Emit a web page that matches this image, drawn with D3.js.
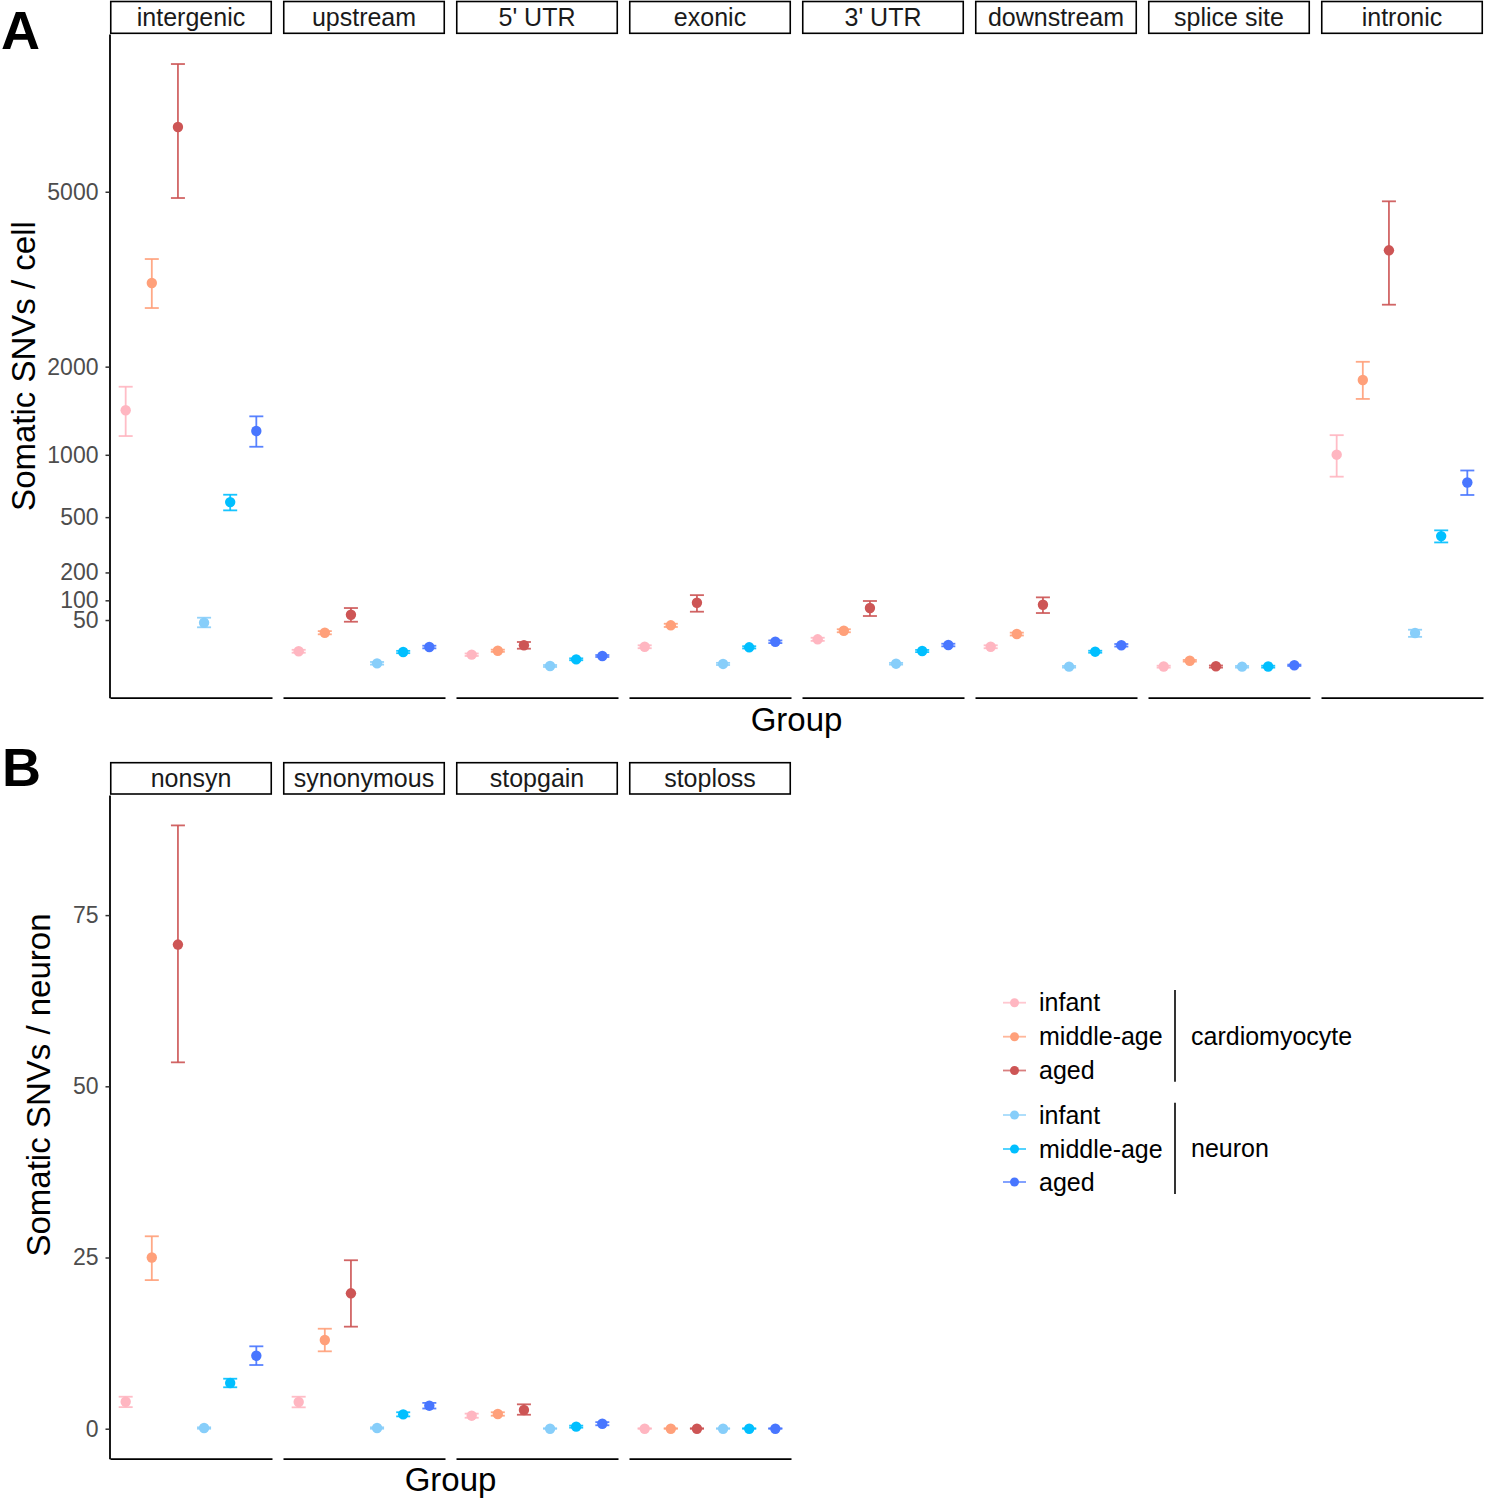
<!DOCTYPE html>
<html>
<head>
<meta charset="utf-8">
<script src="https://cdn.jsdelivr.net/npm/d3@7"></script>
<style>
  body { margin: 0; background: #fff; }
  svg { display: block; font-family: "Liberation Sans", Arial, sans-serif; }
</style>
</head>
<body>
<svg id="chart" width="1485" height="1500"></svg>
<script>
// ---------------- DATA ----------------
const groups = ["infant C", "middle-age C", "aged C", "infant N", "middle-age N", "aged N"];
const groupColors = ["#FFB6C1", "#FFA07A", "#CD5555", "#87CEFA", "#00BFFF", "#4876FF"];
const legendLabels = ["infant", "middle-age", "aged", "infant", "middle-age", "aged"];
const cellTypes = ["cardiomyocyte", "neuron"];

// Panel A (Somatic SNVs / cell), order of groups as above
const regionsA = ["intergenic", "upstream", "5' UTR", "exonic", "3' UTR", "downstream", "splice site", "intronic"];
const meanA = [
  [1462, 3266, 6453, 44.5, 605, 1236],
  [5.9, 26.9, 61.8, 0.4, 5.4, 9.4],
  [3.7, 6.3, 11.0, 0.06, 1.5, 3.0],
  [9.6, 39.5, 93, 0.3, 9.1, 14.8],
  [17.7, 30, 78.4, 0.34, 6.1, 11.3],
  [9.6, 24.9, 87.4, 0.02, 5.6, 11],
  [0.03, 1.05, 0.04, 0.02, 0.03, 0.12],
  [1001, 1826, 3845, 26.4, 382, 757]
];
const lowA = [
  [1184, 2855, 4869, 35.9, 546, 1077],
  [4.9, 24.5, 46.5, 0.2, 4.6, 8.2],
  [3.0, 5.5, 7.9, 0.01, 1.2, 2.5],
  [8.3, 36.5, 69, 0.15, 8.1, 13.3],
  [15.8, 27.6, 58.8, 0.2, 5.3, 10],
  [8.3, 22.8, 65.8, 0.0, 4.9, 9.8],
  [0, 0.8, 0, 0, 0, 0.06],
  [805, 1594, 2908, 20.9, 346, 658]
];
const highA = [
  [1742, 3686, 8044, 55, 660, 1394],
  [7.0, 29.4, 78.4, 0.7, 6.2, 10.6],
  [4.4, 7.1, 14.5, 0.15, 1.9, 3.5],
  [11.0, 42.5, 116, 0.5, 10.1, 16.3],
  [19.7, 32.5, 98, 0.5, 6.9, 12.6],
  [11, 27, 109, 0.06, 6.3, 12.3],
  [0.08, 1.3, 0.1, 0.06, 0.08, 0.2],
  [1193, 2065, 4801, 31.7, 416, 858]
];
const ticksA = [50, 100, 200, 500, 1000, 2000, 5000];

// Panel B (Somatic SNVs / neuron)
const regionsB = ["nonsyn", "synonymous", "stopgain", "stoploss"];
const meanB = [
  [3.94, 25.0, 70.7, 0.1, 6.67, 10.66],
  [3.9, 12.95, 19.77, 0.1, 2.1, 3.36],
  [1.9, 2.15, 2.73, 0.0, 0.3, 0.73],
  [0, 0, 0, 0, 0, 0]
];
const lowB = [
  [3.15, 21.7, 53.5, 0.0, 6.05, 9.3],
  [3.12, 11.3, 14.9, 0.0, 1.8, 2.95],
  [1.6, 1.9, 2.04, 0, 0.15, 0.5],
  [0, 0, 0, 0, 0, 0]
];
const highB = [
  [4.67, 28.1, 88.1, 0.2, 7.3, 12.03],
  [4.67, 14.6, 24.6, 0.2, 2.4, 3.77],
  [2.2, 2.4, 3.56, 0.05, 0.45, 0.96],
  [0.05, 0.05, 0.05, 0.05, 0.05, 0.05]
];
const ticksB = [0, 25, 50, 75];

// ---------------- DRAW ----------------
const svg = d3.select("#chart");
const color = d3.scaleOrdinal().domain(groups).range(groupColors);
const FONT_TICK = 23, FONT_STRIP = 25, FONT_TITLE = 33;

function drawPanel(opt) {
  const { regions, mean, low, high, y, top, bottom, stripTop, stripBottom, xStart, ticks, ticksFmt } = opt;
  const bandW = 162, gap = 11;
  const xEnd = xStart + regions.length * bandW + (regions.length - 1) * gap;
  const facet = d3.scaleBand().domain(regions).range([xStart, xEnd]).paddingInner(gap / (bandW + gap)).paddingOuter(0);
  const g = svg.append("g");

  // y axis
  const yAxis = d3.axisLeft(y).tickValues(ticks).tickSize(4).tickSizeOuter(0).tickPadding(7).tickFormat(ticksFmt);
  const ya = g.append("g").attr("transform", `translate(${xStart - 0.5},0)`).call(yAxis);
  ya.select(".domain").attr("stroke", "#000").attr("stroke-width", 1.8);
  ya.selectAll(".tick line").attr("stroke", "#333").attr("stroke-width", 1.5);
  ya.selectAll(".tick text").attr("fill", "#4D4D4D").attr("font-size", FONT_TICK).attr("font-family", "Liberation Sans, Arial, sans-serif");

  regions.forEach((r, i) => {
    const x0 = facet(r);
    const xs = d3.scalePoint().domain(groups).range([x0, x0 + facet.bandwidth()]).padding(0.6);
    const pg = g.append("g");

    // strip
    pg.append("rect").attr("x", x0 + 0.75).attr("y", stripTop).attr("width", facet.bandwidth() - 1.5)
      .attr("height", stripBottom - stripTop).attr("fill", "#fff").attr("stroke", "#000").attr("stroke-width", 1.6);
    pg.append("text").attr("x", x0 + facet.bandwidth() / 2).attr("y", (stripTop + stripBottom) / 2)
      .attr("dy", "0.35em").attr("text-anchor", "middle").attr("font-size", FONT_STRIP).attr("fill", "#1A1A1A").text(r);

    // bottom axis
    const xa = pg.append("g").attr("transform", `translate(0,${bottom})`)
      .call(d3.axisBottom(xs).tickSize(0).tickSizeOuter(0).tickFormat(""));
    xa.select(".domain").attr("stroke", "#000").attr("stroke-width", 1.8);

    // error bars and points
    groups.forEach((gname, j) => {
      const cx = xs(gname);
      const c = color(gname);
      const yl = y(low[i][j]), yh = y(high[i][j]);
      pg.append("line").attr("x1", cx).attr("x2", cx).attr("y1", yl).attr("y2", yh)
        .attr("stroke", c).attr("stroke-width", 1.8).attr("opacity", 0.9);
      [yl, yh].forEach(yy => pg.append("line").attr("x1", cx - 7).attr("x2", cx + 7).attr("y1", yy).attr("y2", yy)
        .attr("stroke", c).attr("stroke-width", 1.8).attr("opacity", 0.9));
      pg.append("circle").attr("cx", cx).attr("cy", y(mean[i][j])).attr("r", 5.2).attr("fill", c);
    });
  });
  return { xStart, xEnd };
}

// Panel A: sqrt scale
const yA = d3.scaleSqrt().domain([-(4.47 * 4.47), 94.15 * 94.15]).range([697.7, 34]);
const pA = drawPanel({
  regions: regionsA, mean: meanA, low: lowA, high: highA, y: yA,
  top: 34, bottom: 697.7, stripTop: 1.5, stripBottom: 33.3, xStart: 110,
  ticks: ticksA, ticksFmt: d3.format("d")
});

// Panel B: linear scale
const yB = d3.scaleLinear().domain([-4.38, 92.54]).range([1458.7, 795]);
const pB = drawPanel({
  regions: regionsB, mean: meanB, low: lowB, high: highB, y: yB,
  top: 795, bottom: 1458.7, stripTop: 762.7, stripBottom: 794, xStart: 110,
  ticks: ticksB, ticksFmt: d3.format("d")
});

// Axis titles
svg.append("text").attr("transform", "translate(23,366) rotate(-90)").attr("text-anchor", "middle")
  .attr("dy", "0.35em").attr("font-size", FONT_TITLE).text("Somatic SNVs / cell");
svg.append("text").attr("transform", "translate(38,1085) rotate(-90)").attr("text-anchor", "middle")
  .attr("dy", "0.35em").attr("font-size", FONT_TITLE).text("Somatic SNVs / neuron");
svg.append("text").attr("x", (pA.xStart + pA.xEnd) / 2).attr("y", 731).attr("text-anchor", "middle")
  .attr("font-size", FONT_TITLE).text("Group");
svg.append("text").attr("x", (pB.xStart + pB.xEnd) / 2).attr("y", 1491).attr("text-anchor", "middle")
  .attr("font-size", FONT_TITLE).text("Group");

// Panel letters
svg.append("text").attr("x", 1).attr("y", 49).attr("font-size", 54).attr("font-weight", "bold").text("A");
svg.append("text").attr("x", 2).attr("y", 786).attr("font-size", 54).attr("font-weight", "bold").text("B");

// Legend
const legend = svg.append("g");
const rowY = [1002.7, 1036.7, 1070.5, 1115, 1149, 1182];
groups.forEach((gname, j) => {
  const c = color(gname);
  legend.append("line").attr("x1", 1003).attr("x2", 1026).attr("y1", rowY[j]).attr("y2", rowY[j])
    .attr("stroke", c).attr("stroke-width", 1.8).attr("opacity", 0.75);
  legend.append("circle").attr("cx", 1014.5).attr("cy", rowY[j]).attr("r", 4.5).attr("fill", c);
  legend.append("text").attr("x", 1039).attr("y", rowY[j]).attr("dy", "0.35em").attr("font-size", FONT_STRIP)
    .attr("fill", "#000").text(legendLabels[j]);
});
const brackets = [[990, 1081.7], [1102.7, 1194]];
cellTypes.forEach((ct, k) => {
  legend.append("line").attr("x1", 1175).attr("x2", 1175).attr("y1", brackets[k][0]).attr("y2", brackets[k][1])
    .attr("stroke", "#000").attr("stroke-width", 1.6);
  legend.append("text").attr("x", 1191).attr("y", (brackets[k][0] + brackets[k][1]) / 2).attr("dy", "0.35em")
    .attr("font-size", FONT_STRIP).attr("fill", "#000").text(ct);
});
</script>
</body>
</html>
